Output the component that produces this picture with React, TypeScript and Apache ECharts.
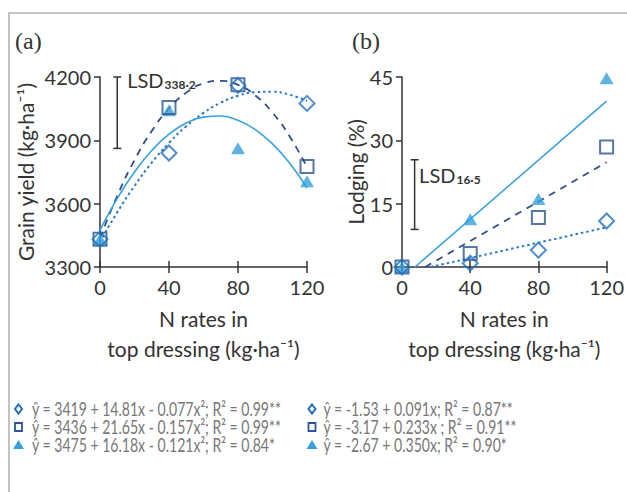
import React, { useEffect, useRef } from "react";
import * as echarts from "echarts";

// ---- data ----
const xLevels = [0, 40, 80, 120];

// Panel (a): grain yield (kg·ha⁻¹)
const yieldDiamond = [3432, 3840, 4160, 4075];
const yieldSquare = [3432, 4056, 4163, 3776];
const yieldTriangle = [3432, 4042, 3863, 3706];

// fitted curves read along x = 0,10,...,120
const curveX = [0, 10, 20, 30, 40, 50, 60, 70, 80, 90, 100, 110, 120];
const curveDiamond = [3419, 3559, 3684, 3794, 3888, 3967, 4030, 4078, 4111, 4128, 4130, 4116, 4087];
const curveSquare = [3436, 3637, 3806, 3944, 4051, 4126, 4170, 4182, 4163, 4113, 4031, 3918, 3773];
const curveTriangle = [3475, 3625, 3750, 3852, 3929, 3982, 4010, 4015, 3995, 3951, 3883, 3791, 3674];

// Panel (b): lodging (%)
const lodgeDiamond = [0, 0.9, 4.0, 10.9];
const lodgeSquare = [0, 3.2, 11.7, 28.4];
const lodgeTriangle = [0, 11.3, 16.1, 44.7];

// fitted straight lines [x, y] start and end
const lineDiamond = [[16.8, 0], [120, 9.4]];
const lineSquare = [[13.6, 0], [120, 24.8]];
const lineTriangle = [[7.6, 0], [120, 39.3]];

// LSD bars: [x, top, lsd]
const lsdYield = [10, 4200, 338.2];
const lsdLodging = [7.4, 25.4, 16.5];

const legendA = [
  "ŷ = 3419 + 14.81x - 0.077x²; R² = 0.99**",
  "ŷ = 3436 + 21.65x - 0.157x²; R² = 0.99**",
  "ŷ = 3475 + 16.18x - 0.121x²; R² = 0.84*",
];
const legendB = [
  "ŷ = -1.53 + 0.091x; R² = 0.87**",
  "ŷ = -3.17 + 0.233x ; R² = 0.91**",
  "ŷ = -2.67 + 0.350x; R² = 0.90*",
];

// ---- styles ----
const C_DIAMOND = "#2070c0";
const C_SQUARE = "#2b5590";
const C_TRI = "#36a0dc";
const C_DOT_LINE = "#2a78c8";
const C_DASH_LINE = "#2d4e86";
const C_SOLID_LINE = "#3ba0de";
const AX = "#333333";
const FONT = "Lato";
const TICK_FS = 20;
const NAME_FS = 21;

function lsdRenderer(dx: number, dy: number) {
  return (params: any, api: any) => {
    const x = api.value(0);
    const t = api.value(1);
    const v = api.value(2);
    const p1 = api.coord([x, t]);
    const p2 = api.coord([x, t - v]);
    const st = { stroke: AX, lineWidth: 1.5 };
    const label = String(v).replace(".", "·");
    return {
      type: "group",
      children: [
        { type: "line", shape: { x1: p1[0], y1: p1[1], x2: p2[0], y2: p2[1] }, style: st },
        { type: "line", shape: { x1: p1[0] - 4, y1: p1[1], x2: p1[0] + 4, y2: p1[1] }, style: st },
        { type: "line", shape: { x1: p2[0] - 4, y1: p2[1], x2: p2[0] + 4, y2: p2[1] }, style: st },
        {
          type: "text",
          x: p1[0] + dx,
          y: p1[1] + dy,
          style: {
            text: "{a|LSD}{b|" + label + "}",
            verticalAlign: "middle",
            align: "left",
            fill: AX,
            rich: {
              a: { fontSize: 20, fontFamily: FONT, color: AX, lineHeight: 21 },
              b: { fontSize: 12, fontFamily: FONT, fontWeight: "bold", color: AX, verticalAlign: "bottom", lineHeight: 12, padding: [0, 0, 0, 1] },
            },
          },
        },
      ],
    };
  };
}

function xAxisMain(gridIndex: number) {
  return {
    type: "value",
    gridIndex,
    min: 0,
    max: 120,
    interval: 40,
    axisLine: { show: true, lineStyle: { color: AX, width: 1.5 } },
    axisTick: { show: true, length: 6, lineStyle: { color: AX, width: 1.5 } },
    axisLabel: { fontSize: TICK_FS, color: AX, fontFamily: FONT, margin: 10, formatter: (v: number) => String(v) },
    splitLine: { show: false },
    name: "N rates in\ntop dressing (kg·ha⁻¹)",
    nameLocation: "middle",
    nameGap: 36,
    nameTextStyle: { fontSize: NAME_FS, color: AX, fontFamily: FONT, lineHeight: 30 },
  };
}
function xAxisInner(gridIndex: number) {
  return {
    type: "value",
    gridIndex,
    min: 0,
    max: 120,
    interval: 40,
    position: "bottom",
    axisLine: { show: false },
    axisTick: { show: true, inside: true, length: 6, lineStyle: { color: AX, width: 1.5 } },
    axisLabel: { show: false },
    splitLine: { show: false },
  };
}
function yAxisDef(gridIndex: number, min: number, max: number, interval: number, name: string, nameGap: number) {
  return {
    type: "value",
    gridIndex,
    min,
    max,
    interval,
    axisLine: { show: true, lineStyle: { color: AX, width: 1.5 } },
    axisTick: { show: true, length: 6, lineStyle: { color: AX, width: 1.5 } },
    axisLabel: { fontSize: TICK_FS, color: AX, fontFamily: FONT, margin: 9, formatter: (v: number) => String(v) },
    splitLine: { show: false },
    name,
    nameLocation: "middle",
    nameGap,
    nameTextStyle: { fontSize: NAME_FS, color: AX, fontFamily: FONT },
  };
}

function pts(xs: number[], ys: number[]) {
  return xs.map((x, i) => [x, ys[i]]);
}

function markerSeries(idx: number, ys: number[], kind: string) {
  const base: any = { type: "scatter", xAxisIndex: idx, yAxisIndex: idx, data: pts(xLevels, ys), z: 5, silent: true };
  if (kind === "diamond") {
    return { ...base, symbol: "diamond", symbolSize: [15, 15], itemStyle: { color: "rgba(255,255,255,0)", borderColor: C_DIAMOND, borderWidth: 2 } };
  }
  if (kind === "square") {
    return { ...base, symbol: "rect", symbolSize: 13, itemStyle: { color: "rgba(255,255,255,0)", borderColor: C_SQUARE, borderWidth: 2 } };
  }
  return { ...base, symbol: "triangle", symbolSize: [14, 12], itemStyle: { color: C_TRI } };
}

function legendGraphics(items: string[], markerX: number, textX: number) {
  const rows = [409, 427, 445];
  const out: any[] = [];
  items.forEach((t, i) => {
    const y = rows[i];
    if (i === 0) {
      out.push({ type: "polygon", shape: { points: [[markerX, y - 4.5], [markerX + 3.5, y], [markerX, y + 4.5], [markerX - 3.5, y]] }, style: { fill: "none", stroke: C_DIAMOND, lineWidth: 2 } });
    } else if (i === 1) {
      out.push({ type: "rect", shape: { x: markerX - 3.5, y: y - 4, width: 7, height: 8 }, style: { fill: "none", stroke: C_SQUARE, lineWidth: 1.8 } });
    } else {
      out.push({ type: "polygon", shape: { points: [[markerX, y - 5], [markerX + 5.5, y + 4], [markerX - 5.5, y + 4]] }, style: { fill: C_TRI } });
    }
    out.push({ type: "text", x: textX, y, scaleX: 0.74, style: { text: t, font: "19px " + FONT, fill: "#777777", verticalAlign: "middle", align: "left" } });
  });
  return out;
}

export default function App() {
  const ref = useRef<HTMLDivElement>(null);
  useEffect(() => {
    if (!ref.current) return;
    const chart = echarts.init(ref.current, undefined, { renderer: "svg" });
    const option: any = {
      animation: false,
      backgroundColor: "#ffffff",
      grid: [
        { left: 100, top: 77, width: 207, height: 190 },
        { left: 402, top: 77, width: 205, height: 190 },
      ],
      xAxis: [xAxisMain(0), xAxisMain(1), xAxisInner(0), xAxisInner(1)],
      yAxis: [
        yAxisDef(0, 3300, 4200, 300, "Grain yield (kg·ha⁻¹)", 64),
        yAxisDef(1, 0, 45, 15, "Lodging (%)", 35),
      ],
      series: [
        { type: "line", xAxisIndex: 0, yAxisIndex: 0, data: pts(curveX, curveDiamond), smooth: true, showSymbol: false, silent: true, lineStyle: { color: C_DOT_LINE, width: 2, type: [2.5, 3] } },
        { type: "line", xAxisIndex: 0, yAxisIndex: 0, data: pts(curveX, curveSquare), smooth: true, showSymbol: false, silent: true, lineStyle: { color: C_DASH_LINE, width: 1.8, type: [7, 6] } },
        { type: "line", xAxisIndex: 0, yAxisIndex: 0, data: pts(curveX, curveTriangle), smooth: true, showSymbol: false, silent: true, lineStyle: { color: C_SOLID_LINE, width: 1.6, type: "solid" } },
        { type: "line", xAxisIndex: 1, yAxisIndex: 1, data: lineDiamond, showSymbol: false, silent: true, lineStyle: { color: C_DOT_LINE, width: 2, type: [2.5, 3] } },
        { type: "line", xAxisIndex: 1, yAxisIndex: 1, data: lineSquare, showSymbol: false, silent: true, lineStyle: { color: C_DASH_LINE, width: 1.8, type: [7, 6] } },
        { type: "line", xAxisIndex: 1, yAxisIndex: 1, data: lineTriangle, showSymbol: false, silent: true, lineStyle: { color: C_SOLID_LINE, width: 1.6, type: "solid" } },
        markerSeries(0, yieldTriangle, "triangle"),
        markerSeries(0, yieldSquare, "square"),
        markerSeries(0, yieldDiamond, "diamond"),
        markerSeries(1, lodgeTriangle, "triangle"),
        markerSeries(1, lodgeSquare, "square"),
        markerSeries(1, lodgeDiamond, "diamond"),
        { type: "custom", xAxisIndex: 0, yAxisIndex: 0, data: [lsdYield], renderItem: lsdRenderer(10, 3), silent: true, z: 6 },
        { type: "custom", xAxisIndex: 1, yAxisIndex: 1, data: [lsdLodging], renderItem: lsdRenderer(4.5, 15), silent: true, z: 6 },
      ],
      graphic: [
        { type: "rect", shape: { x: 9, y: 13, width: 800, height: 700 }, style: { fill: "none", stroke: "#b4b4b4", lineWidth: 1.6 }, silent: true },
        { type: "text", x: 15, y: 41, style: { text: "(a)", font: "24px 'Liberation Serif'", fill: AX, verticalAlign: "middle" } },
        { type: "text", x: 352, y: 41, style: { text: "(b)", font: "24px 'Liberation Serif'", fill: AX, verticalAlign: "middle" } },
        ...legendGraphics(legendA, 18.5, 32),
        ...legendGraphics(legendB, 312, 323.5),
      ],
    };
    chart.setOption(option);
    return () => chart.dispose();
  }, []);
  return <div ref={ref} style={{ position: "absolute", left: 0, top: 0, width: 627, height: 492 }} />;
}
